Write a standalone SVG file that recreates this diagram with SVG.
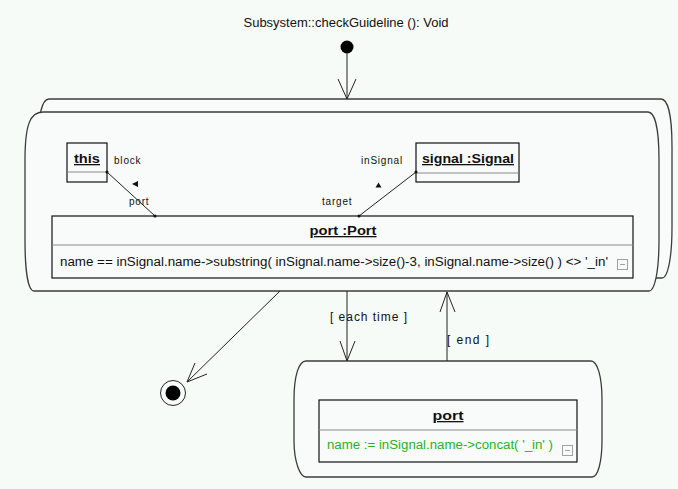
<svg xmlns="http://www.w3.org/2000/svg" width="678" height="489" viewBox="0 0 678 489">
  <style>
    text { font-family: "Liberation Sans", Arial, sans-serif; fill: #111; }
    .title { font-size: 12px; }
    .role { font-size: 10px; letter-spacing: 0.8px; }
    .obj { font-size: 13px; font-weight: bold; text-decoration: underline; }
    .attr { font-size: 12px; }
    .assign { font-size: 12px; fill: #1fb51f; }
    .guard { font-size: 12px; }
    .state { fill: #f8fbf9; stroke: #3c3c3c; stroke-width: 1.3; }
    .box { fill: #f8fbf9; stroke: #111; stroke-width: 1.2; }
    .sep { stroke: #8a8a8a; stroke-width: 1; }
    .edge { fill: none; stroke: #222; stroke-width: 1; }
    .link { fill: none; stroke: #222; stroke-width: 1; }
    .icon { fill: none; stroke: #a0a0a0; stroke-width: 1; }
  </style>

  <rect x="0" y="0" width="678" height="489" fill="#f7fbf8"/>

  <text class="title" x="346" y="27" text-anchor="middle" textLength="205" lengthAdjust="spacingAndGlyphs">Subsystem::checkGuideline (): Void</text>

  <!-- initial and final nodes -->
  <g id="initial">
    <circle cx="347" cy="47" r="6.5" fill="#000"/>
  </g>
  <g id="final">
    <circle cx="173" cy="393" r="12.5" fill="#f8fbf9" stroke="#222" stroke-width="1"/>
    <circle cx="173" cy="393" r="7.5" fill="#000"/>
  </g>

  <!-- for-each activity: stacked shape -->
  <g id="foreach-activity">
    <path class="state" d="M49,99 H661 C667,99 672,112 672,147 V227 C672,257 668,278 662,278 H47 C41,278 38,257 38,227 V147 C38,115 42,99 49,99 Z"/>
    <path class="state" d="M43,112 H648 C654,112 659,125 659,160 V240 C659,270 655,291 649,291 H34 C28,291 25,270 25,240 V160 C25,125 30,112 43,112 Z"/>

    <g id="obj-this">
      <rect class="box" x="67" y="143" width="40" height="39"/>
      <line class="sep" x1="67" y1="172" x2="107" y2="172"/>
      <text class="obj" x="87" y="163" text-anchor="middle" textLength="26" lengthAdjust="spacingAndGlyphs">this</text>
    </g>

    <g id="obj-signal">
      <rect class="box" x="416" y="143" width="103" height="39"/>
      <line class="sep" x1="416" y1="173" x2="519" y2="173"/>
      <text class="obj" x="422" y="163" textLength="92" lengthAdjust="spacingAndGlyphs">signal :Signal</text>
    </g>

    <g id="obj-port">
      <rect class="box" x="52" y="216" width="581" height="62"/>
      <line class="sep" x1="52" y1="245" x2="633" y2="245"/>
      <text class="obj" x="343" y="235" text-anchor="middle" textLength="67" lengthAdjust="spacingAndGlyphs">port :Port</text>
      <text class="attr" x="60" y="266" textLength="548" lengthAdjust="spacingAndGlyphs">name == inSignal.name-&gt;substring( inSignal.name-&gt;size()-3, inSignal.name-&gt;size() ) &lt;&gt; '_in'</text>
      <rect class="icon" x="617.5" y="259.5" width="10" height="10"/>
      <line class="icon" x1="620" y1="264.5" x2="625" y2="264.5"/>
    </g>

    <!-- links between objects -->
    <g id="links">
      <line class="link" x1="107" y1="172" x2="155" y2="216"/>
      <circle cx="107" cy="172" r="1.5" fill="#111"/>
      <circle cx="155" cy="216" r="1.5" fill="#111"/>
      <polygon points="132,184 138,181 138,187" fill="#111"/>
      <text class="role" x="114" y="164">block</text>
      <text class="role" x="129" y="205">port</text>

      <line class="link" x1="416" y1="172" x2="359" y2="216"/>
      <circle cx="416" cy="172" r="1.5" fill="#111"/>
      <circle cx="359" cy="216" r="1.5" fill="#111"/>
      <polygon points="378.5,182.5 375.5,187.5 381.5,187.5" fill="#111"/>
      <text class="role" x="361" y="164">inSignal</text>
      <text class="role" x="322" y="205">target</text>
    </g>
  </g>

  <!-- rename activity -->
  <g id="rename-activity">
    <path class="state" d="M306,361 H591 C597,361 602,375 602,400 V440 C602,462 598,477 592,477 H306 C300,477 294,462 294,440 V400 C294,375 299,361 306,361 Z"/>
    <g id="obj-port-rename">
      <rect class="box" x="319" y="400" width="258" height="62"/>
      <line class="sep" x1="319" y1="430" x2="577" y2="430"/>
      <text class="obj" x="448" y="420" text-anchor="middle" textLength="31" lengthAdjust="spacingAndGlyphs">port</text>
      <text class="assign" x="327" y="449" textLength="226" lengthAdjust="spacingAndGlyphs">name := inSignal.name-&gt;concat( '_in' )</text>
      <rect class="icon" x="562.5" y="445.5" width="10" height="10"/>
      <line class="icon" x1="565" y1="450.5" x2="570" y2="450.5"/>
    </g>
  </g>

  <!-- transitions -->
  <g id="transitions">
    <line class="edge" x1="347" y1="53" x2="347" y2="99"/>
    <polyline class="edge" points="338,79 347,99 356,79"/>

    <line class="edge" x1="280" y1="291" x2="187" y2="382"/>
    <polyline class="edge" points="195,363 187,382 207,374"/>

    <line class="edge" x1="347" y1="291" x2="347" y2="361"/>
    <polyline class="edge" points="340,341 347,361 355,341"/>
    <text class="guard" x="330" y="321" textLength="77" lengthAdjust="spacing">[  each time  ]</text>

    <line class="edge" x1="447" y1="361" x2="447" y2="292"/>
    <polyline class="edge" points="440,312 447,292 455,312"/>
    <text class="guard" x="447" y="344" textLength="42" lengthAdjust="spacing">[  end  ]</text>
  </g>
</svg>
